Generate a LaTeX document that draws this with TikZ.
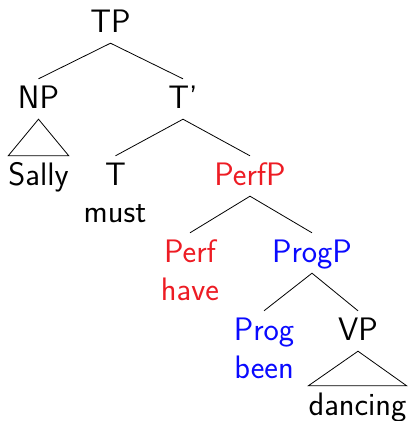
\documentclass[tikz,border=0pt]{standalone}
\usepackage{fontspec}
\definecolor{perfred}{RGB}{237,28,36}
\definecolor{progblue}{RGB}{10,10,255}
\begin{document}
\begin{tikzpicture}[x=1pt,y=-1pt,
  lab/.style={anchor=base,font=\sffamily\fontsize{32.5}{38}\selectfont,
    text height=22pt,text depth=4pt,inner ysep=7pt,inner xsep=0pt},
  edge/.style={line width=0.8pt}]
\useasboundingbox (0,0) rectangle (408,421);
\node[lab] (TP) at (110.5,32) {TP};
\node[lab] (NP) at (38.5,108) {NP};
\node[lab] (Tb) at (183,108) {T'};
\node[lab] (Sally) at (38.5,185) {Sally};
\node[lab] (T) at (115.5,185) {T};
\node[lab] (must) at (115,222) {must};
\node[lab,perfred] (PerfP) at (250,185) {PerfP};
\node[lab,perfred] (Perf) at (190,262) {Perf};
\node[lab,perfred] (have) at (190,300) {have};
\node[lab,progblue] (ProgP) at (312,262) {ProgP};
\node[lab,progblue] (Prog) at (264,340) {Prog};
\node[lab,progblue] (been) at (264,378) {been};
\node[lab] (VP) at (358,340) {VP};
\node[lab] (dancing) at (357.5,415) {dancing};
\draw[edge] (NP.north) -- (TP.south) -- (Tb.north);
\draw[edge] (NP.south) -- (Sally.north west) -- (Sally.north east) -- cycle;
\draw[edge] (T.north) -- (Tb.south) -- (PerfP.north);
\draw[edge] (Perf.north) -- (PerfP.south) -- (ProgP.north);
\draw[edge] (Prog.north) -- (ProgP.south) -- (VP.north);
\draw[edge] (VP.south) -- (dancing.north west) -- (dancing.north east) -- cycle;
\end{tikzpicture}
\end{document}
